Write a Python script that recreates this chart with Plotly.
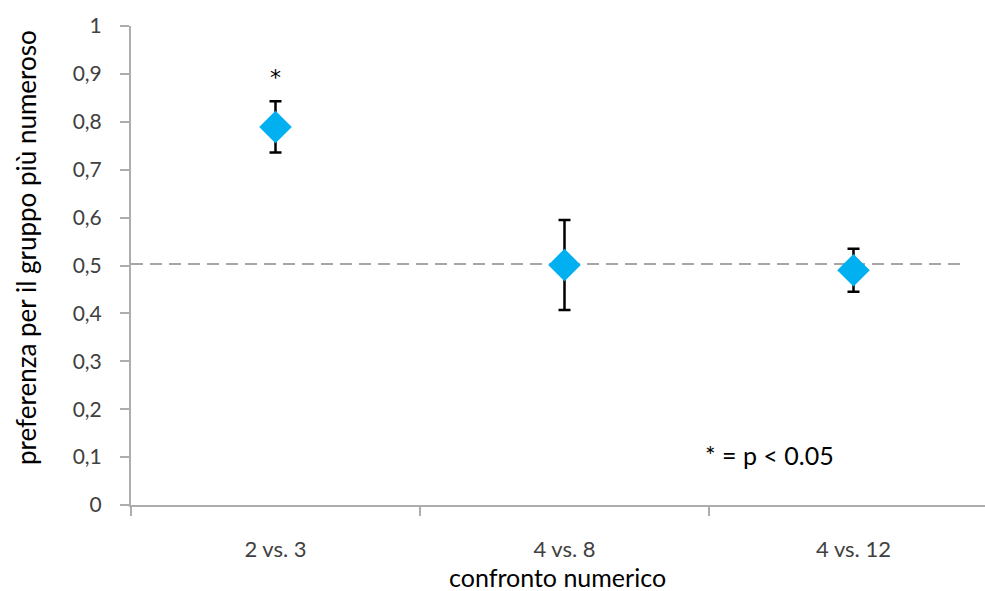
import plotly.graph_objects as go

categories = ["2 vs. 3", "4 vs. 8", "4 vs. 12"]
values = [0.789, 0.501, 0.490]
err_plus = [0.054, 0.094, 0.045]
err_minus = [0.053, 0.094, 0.045]
chance_level = 0.503
y_ticks = [0, 0.1, 0.2, 0.3, 0.4, 0.5, 0.6, 0.7, 0.8, 0.9, 1]
y_ticktext = ["0", "0,1", "0,2", "0,3", "0,4", "0,5", "0,6", "0,7", "0,8", "0,9", "1"]
sig_marks = ["*", "", ""]

W, H = 985, 591
L, R, T, B = 131, 0, 26, 86
pw = W - L - R
ph = H - T - B

xpos = list(range(len(categories)))
FONT = "Lato"
TXT = "#404040"
AX = "#ADADAD"

fig = go.Figure()

# dashed reference line
fig.add_trace(go.Scatter(
    x=[-0.5, 2.38], y=[chance_level, chance_level], mode="lines",
    line=dict(color="#A6A6A6", width=2, dash="12px,7px"),
    hoverinfo="skip", showlegend=False))

fig.add_trace(go.Scatter(
    x=xpos, y=values, mode="markers",
    marker=dict(symbol="diamond", size=25, color="#00B0F0", line=dict(width=0)),
    error_y=dict(type="data", array=err_plus, arrayminus=err_minus,
                 color="black", thickness=2.5, width=6),
    showlegend=False))

x_range = [-0.5, -0.5 + pw / 289.0]

annotations = []
for i, s in enumerate(sig_marks):
    if s:
        annotations.append(dict(x=xpos[i], y=0.893, xref="x", yref="y", text=s,
                                xanchor="center", yanchor="middle",
                                showarrow=False, font=dict(family="DejaVu Sans", size=22, color="black")))
annotations.append(dict(x=1.711, y=0.104, xref="x", yref="y", text="* = p < 0.05",
                        xanchor="center", yanchor="middle",
                        showarrow=False, font=dict(family=FONT, size=25, color="black")))
annotations.append(dict(x=(557 - L) / pw, y=(H - B - 577) / ph, xref="paper", yref="paper",
                        text="confronto numerico", showarrow=False,
                        xanchor="center", yanchor="middle",
                        font=dict(family=FONT, size=25, color="black")))
annotations.append(dict(x=(26 - L) / pw, y=(H - B - 248) / ph, xref="paper", yref="paper",
                        text="preferenza per il gruppo più numeroso", textangle=-90,
                        xanchor="center", yanchor="middle",
                        showarrow=False, font=dict(family=FONT, size=26, color="black")))

fig.update_layout(
    width=W, height=H,
    margin=dict(l=L, r=R, t=T, b=B, pad=0),
    plot_bgcolor="white", paper_bgcolor="white",
    annotations=annotations,
    xaxis=dict(range=x_range, tickvals=xpos, ticktext=categories,
               showgrid=False, zeroline=False, showline=True, linecolor=AX, linewidth=2,
               ticks="", ticklabelstandoff=24,
               tickfont=dict(family=FONT, size=22, color=TXT),
               minor=dict(tickvals=[-0.5, 0.5, 1.5], ticks="outside", ticklen=9,
                          tickcolor=AX, tickwidth=2, showgrid=False)),
    yaxis=dict(range=[0, 1], tickvals=y_ticks, ticktext=y_ticktext,
               showgrid=False, zeroline=False, showline=True, linecolor=AX, linewidth=2,
               ticks="outside", ticklen=9, tickcolor=AX, tickwidth=2,
               ticklabelstandoff=14,
               tickfont=dict(family=FONT, size=21, color=TXT)),
)

fig.write_html("out.html")
